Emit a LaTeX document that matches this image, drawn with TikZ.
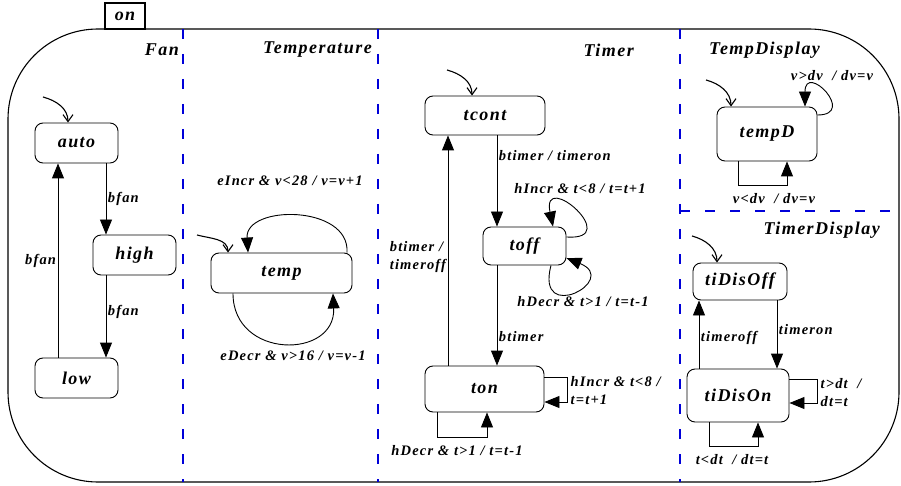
\documentclass[tikz,border=0pt]{standalone}
\usepackage{fontspec}
\setmainfont{Liberation Serif}[LetterSpace=8]
\usetikzlibrary{arrows.meta}

\tikzset{
  state/.style={draw, rounded corners=8pt, line width=0.9pt, inner sep=0pt,
    font=\fontsize{18}{20}\selectfont\bfseries\itshape},
  trans/.style={line width=0.9pt, -{Triangle[length=15pt,width=12pt]}},
  init/.style={line width=1.1pt, -{Straight Barb[length=7pt,width=10pt]}},
  lbl/.style={inner sep=1.5pt, font=\fontsize{14.5}{18}\selectfont\bfseries\itshape},
  title/.style={inner sep=0pt, font=\fontsize{18}{20}\selectfont\bfseries\itshape},
  region/.style={blue!85!black, line width=2.4pt, dash pattern=on 10pt off 15pt}
}

\begin{document}
\begin{tikzpicture}[x=1pt, y=1pt]
\useasboundingbox (0,0) rectangle (901,485);

% the on state and its regions
\draw[line width=1.1pt, rounded corners=90pt] (8,3) rectangle (899,456);
\node[draw, line width=1.1pt, minimum width=40pt, minimum height=26pt, inner sep=0pt,
  font=\fontsize{18}{20}\selectfont\bfseries\itshape] (on) at (125,469) {on};

\foreach \x in {183, 378, 680}
  \draw[region] (\x,456) -- (\x,3);
\draw[region] (680,274) -- (899,274);

\node[title, anchor=east] (fanT) at (179,435) {Fan};
\node[title, anchor=east] (tempT) at (372,435) {Temperature};
\node[title, anchor=east] (timerT) at (634,435) {Timer};
\node[title, anchor=west] (tempDT) at (709,435) {TempDisplay};
\node[title, anchor=east] (tiDisT) at (880,255) {TimerDisplay};

% Fan
\node[state, minimum width=83pt, minimum height=40pt] (auto) at (76.5,342) {auto};
\node[state, minimum width=83pt, minimum height=40pt] (high) at (134.5,230) {high};
\node[state, minimum width=83pt, minimum height=40pt] (low) at (76.5,107) {low};
\coordinate (fanA) at (106,0);
\coordinate (fanB) at (58,0);
\coordinate (autoIn) at (43,388);

\draw[init] (autoIn) to[out=-15, in=90] ([xshift=-8.5pt]auto.north);
\draw[trans] (auto.south -| fanA) -- node[lbl, right] (l1) {bfan} (high.north -| fanA);
\draw[trans] (high.south -| fanA) -- node[lbl, right, pos=0.45] (l2) {bfan} (low.north -| fanA);
\draw[trans] (low.north -| fanB) -- node[lbl, left] (l3) {bfan} (auto.south -| fanB);

% Temperature
\node[state, minimum width=141pt, minimum height=40pt] (temp) at (281.5,212) {temp};
\coordinate (tempIn) at (197,250);

\draw[init] (tempIn) to[out=-15, in=90] ([xshift=-53.5pt]temp.north);
\draw[trans] ([xshift=65.5pt]temp.north) .. controls +(3,48) and +(-3,48) .. ([xshift=-33.5pt]temp.north);
\draw[trans] ([xshift=-48.5pt]temp.south) .. controls +(0,-66) and +(3,-66) .. ([xshift=51.5pt]temp.south);
\node[lbl] (l4) at (290,304) {eIncr \& v<28 / v=v+1};
\node[lbl] (l5) at (293,129) {eDecr \& v>16 / v=v-1};

% Timer
\node[state, minimum width=120pt, minimum height=39pt] (tcont) at (485,369.5) {tcont};
\node[state, minimum width=83pt, minimum height=38pt] (toff) at (524.5,239) {toff};
\node[state, minimum width=119pt, minimum height=46pt] (ton) at (484.5,96) {ton};
\coordinate (timA) at (497,0);
\coordinate (timB) at (448,0);
\coordinate (tcontIn) at (447,415);

\draw[init] (tcontIn) to[out=-15, in=90] ([xshift=-13pt]tcont.north);
\draw[trans] (tcont.south -| timA) -- node[lbl, right, pos=0.22] (l6) {btimer / timeron} (toff.north -| timA);
\draw[trans] (toff.south -| timA) -- node[lbl, right, pos=0.71] (l7) {btimer} (ton.north -| timA);
\draw[trans] (ton.north -| timB) -- node[lbl, left, align=left, pos=0.47] (l8) {btimer /\\timeroff} (tcont.south -| timB);
\draw[trans] ([yshift=9pt]toff.east) .. controls +(58,-4) and +(-12,58) .. ([xshift=28.5pt]toff.north);
\draw[trans] ([xshift=26.5pt]toff.south) .. controls +(-16,-60) and +(54,-22) .. ([yshift=-12pt]toff.east);
\node[lbl] (l9) at (580,296) {hIncr \& t<8 / t=t+1};
\node[lbl] (l10) at (583,183) {hDecr \& t>1 / t=t-1};
\draw[trans] ([yshift=12pt]ton.east) -- ++(23,0) |- ([yshift=-13pt]ton.east);
\draw[trans] ([xshift=-47.5pt]ton.south) -- ++(0,-25) -| ([xshift=2.5pt]ton.south);
\node[lbl, anchor=west, align=left] (l11) at (569,94) {hIncr \& t<8 /\\t=t+1};
\node[lbl] (l12) at (457,34) {hDecr \& t>1 / t=t-1};

% TempDisplay
\node[state, minimum width=100pt, minimum height=54pt] (tempD) at (767,351) {tempD};
\coordinate (tempDIn) at (706,405);

\draw[init] (tempDIn) to[out=-15, in=90] ([xshift=-36pt]tempD.north);
\draw[trans] ([yshift=19pt]tempD.east) .. controls +(40,0) and +(0,45) .. ([xshift=38pt]tempD.north);
\draw[trans] ([xshift=-29pt]tempD.south) -- ++(0,-24) -| ([xshift=20pt]tempD.south);
\node[lbl] (l13) at (832,409) {v>dv\ \ / dv=v};
\node[lbl] (l14) at (774,286) {v<dv\ \ / dv=v};

% TimerDisplay
\node[state, minimum width=94pt, minimum height=37pt] (tiDisOff) at (740,203.5) {tiDisOff};
\node[state, minimum width=102pt, minimum height=53pt] (tiDisOn) at (738,89.5) {tiDisOn};
\coordinate (tdA) at (777,0);
\coordinate (tdB) at (699,0);
\coordinate (tiDisIn) at (692,249);

\draw[init] (tiDisIn) to[out=-15, in=90] ([xshift=-23pt]tiDisOff.north);
\draw[trans] (tiDisOff.south -| tdA) -- node[lbl, right, pos=0.43] (l15) {timeron} (tiDisOn.north -| tdA);
\draw[trans] (tiDisOn.north -| tdB) -- node[lbl, right, pos=0.45] (l16) {timeroff} (tiDisOff.south -| tdB);
\draw[trans] ([yshift=16.5pt]tiDisOn.east) -- ++(28,0) |- ([yshift=-7.5pt]tiDisOn.east);
\draw[trans] ([xshift=-29pt]tiDisOn.south) -- ++(0,-24) -| ([xshift=20pt]tiDisOn.south);
\node[lbl, anchor=west, align=left] (l17) at (819,92) {t>dt\ \ /\\dt=t};
\node[lbl] (l18) at (732,25) {t<dt\ \ / dt=t};
\end{tikzpicture}
\end{document}
